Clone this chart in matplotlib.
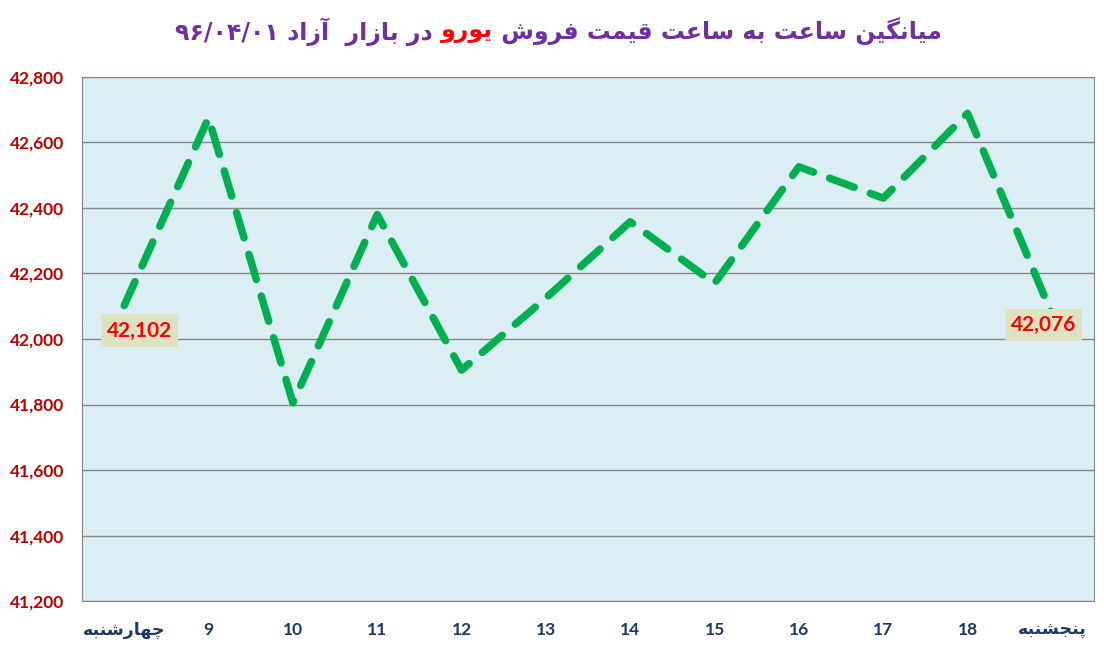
import matplotlib
matplotlib.use('Agg')
import matplotlib.pyplot as plt
from matplotlib.ticker import FuncFormatter

# data
HOURS = ['چهارشنبه', '9', '10', '11', '12', '13', '14', '15', '16', '17', '18', 'پنجشنبه']
PRICES = [42102, 42675, 41805, 42380, 41905, 42125, 42358, 42170, 42526, 42430, 42689, 42076]
TITLE_LEFT = 'میانگین ساعت به ساعت قیمت فروش'
TITLE_MID = 'یورو'
TITLE_RIGHT = 'در بازار  آزاد ۹۶/۰۴/۰۱'

PURPLE = '#7030A0'
NAVY = '#1F3864'
DARKRED = '#C00000'
GREEN = '#00B050'
BG = '#DBEEF3'

# isolated, final, initial, medial presentation forms
FORMS = {
    'ا': ('\uFE8D', '\uFE8E', None, None),
    'آ': ('\uFE81', '\uFE82', None, None),
    'ب': ('\uFE8F', '\uFE90', '\uFE91', '\uFE92'),
    'ت': ('\uFE95', '\uFE96', '\uFE97', '\uFE98'),
    'ج': ('\uFE9D', '\uFE9E', '\uFE9F', '\uFEA0'),
    'د': ('\uFEA9', '\uFEAA', None, None),
    'ر': ('\uFEAD', '\uFEAE', None, None),
    'ز': ('\uFEAF', '\uFEB0', None, None),
    'س': ('\uFEB1', '\uFEB2', '\uFEB3', '\uFEB4'),
    'ش': ('\uFEB5', '\uFEB6', '\uFEB7', '\uFEB8'),
    'ع': ('\uFEC9', '\uFECA', '\uFECB', '\uFECC'),
    'ف': ('\uFED1', '\uFED2', '\uFED3', '\uFED4'),
    'ق': ('\uFED5', '\uFED6', '\uFED7', '\uFED8'),
    'م': ('\uFEE1', '\uFEE2', '\uFEE3', '\uFEE4'),
    'ن': ('\uFEE5', '\uFEE6', '\uFEE7', '\uFEE8'),
    'ه': ('\uFEE9', '\uFEEA', '\uFEEB', '\uFEEC'),
    'و': ('\uFEED', '\uFEEE', None, None),
    'پ': ('\uFB56', '\uFB57', '\uFB58', '\uFB59'),
    'چ': ('\uFB7A', '\uFB7B', '\uFB7C', '\uFB7D'),
    'گ': ('\uFB92', '\uFB93', '\uFB94', '\uFB95'),
    'ی': ('\uFBFC', '\uFBFD', '\uFBFE', '\uFBFF'),
}


def shape(word):
    out = []
    for i, c in enumerate(word):
        if c not in FORMS:
            out.append(c)
            continue
        prev = word[i - 1] if i > 0 else None
        nxt = word[i + 1] if i + 1 < len(word) else None
        jp = prev in FORMS and FORMS[prev][2] is not None
        jn = nxt in FORMS and FORMS[c][2] is not None
        iso, fin, ini, med = FORMS[c]
        if jp and jn:
            out.append(med)
        elif jp:
            out.append(fin)
        elif jn:
            out.append(ini)
        else:
            out.append(iso)
    return ''.join(out)


def rtl(text):
    words = text.split(' ')
    res = []
    for w in reversed(words):
        if any(c in FORMS for c in w):
            res.append(shape(w)[::-1])
        else:
            res.append(w)
    return ' '.join(res)


plt.rcParams['font.family'] = ['Lato', 'DejaVu Sans']

fig = plt.figure(figsize=(11.04, 6.54), dpi=100)
ax = fig.add_axes([0.0743, 0.081, 0.9167, 0.8013])
ax.set_facecolor(BG)

x = list(range(len(HOURS)))
ax.plot(x, PRICES, color=GREEN, lw=5.4, linestyle=(0, (3.5, 2.3)),
        dash_capstyle='round', solid_capstyle='round', zorder=3)

ax.set_xlim(-0.5, len(HOURS) - 0.5)
ax.set_ylim(41200, 42800)
ax.set_yticks(range(41200, 42801, 200))
ax.yaxis.set_major_formatter(FuncFormatter(lambda v, p: '{:,.0f}'.format(v)))
ax.grid(axis='y', color='#868686', lw=1)
ax.set_axisbelow(True)
for s in ax.spines.values():
    s.set_color('#868686')
ax.tick_params(length=0)
ax.tick_params(axis='y', pad=13, labelsize=12.5, labelcolor=DARKRED)
ax.tick_params(axis='x', pad=15, labelsize=12.5, labelcolor=NAVY)
ax.set_xticks(x)
ax.set_xticklabels([rtl(h) for h in HOURS])
for lab in ax.get_xticklabels() + ax.get_yticklabels():
    lab.set_fontweight('bold')

# end labels
box = dict(boxstyle='square,pad=0.3', facecolor='#DDE3C2', edgecolor='none')
ax.annotate('{:,}'.format(PRICES[0]), (x[0], PRICES[0]), xytext=(11, -18),
            textcoords='offset points', ha='center', va='center', fontsize=15,
            fontweight='bold', color='#FF0000', bbox=box, zorder=4)
ax.annotate('{:,}'.format(PRICES[-1]), (x[-1], PRICES[-1]), xytext=(-6, -8),
            textcoords='offset points', ha='center', va='center', fontsize=15,
            fontweight='bold', color='#FF0000', bbox=box, zorder=4)

# title in three colored pieces, laid out left to right
pieces = [(rtl(TITLE_RIGHT) + ' ', PURPLE), (rtl(TITLE_MID), 'red'), (' ' + rtl(TITLE_LEFT), PURPLE)]
tobjs = [fig.text(0, 0.952, p, color=c, fontsize=17, fontweight='bold',
                  family=['DejaVu Sans'], va='center', ha='left') for p, c in pieces]
fig.canvas.draw()
r = fig.canvas.get_renderer()
widths = [t.get_window_extent(r).width for t in tobjs]
start = 0.506 * fig.bbox.width - sum(widths) / 2
for t, w in zip(tobjs, widths):
    t.set_x(start / fig.bbox.width)
    start += w

fig.savefig('out.png', dpi=100)
